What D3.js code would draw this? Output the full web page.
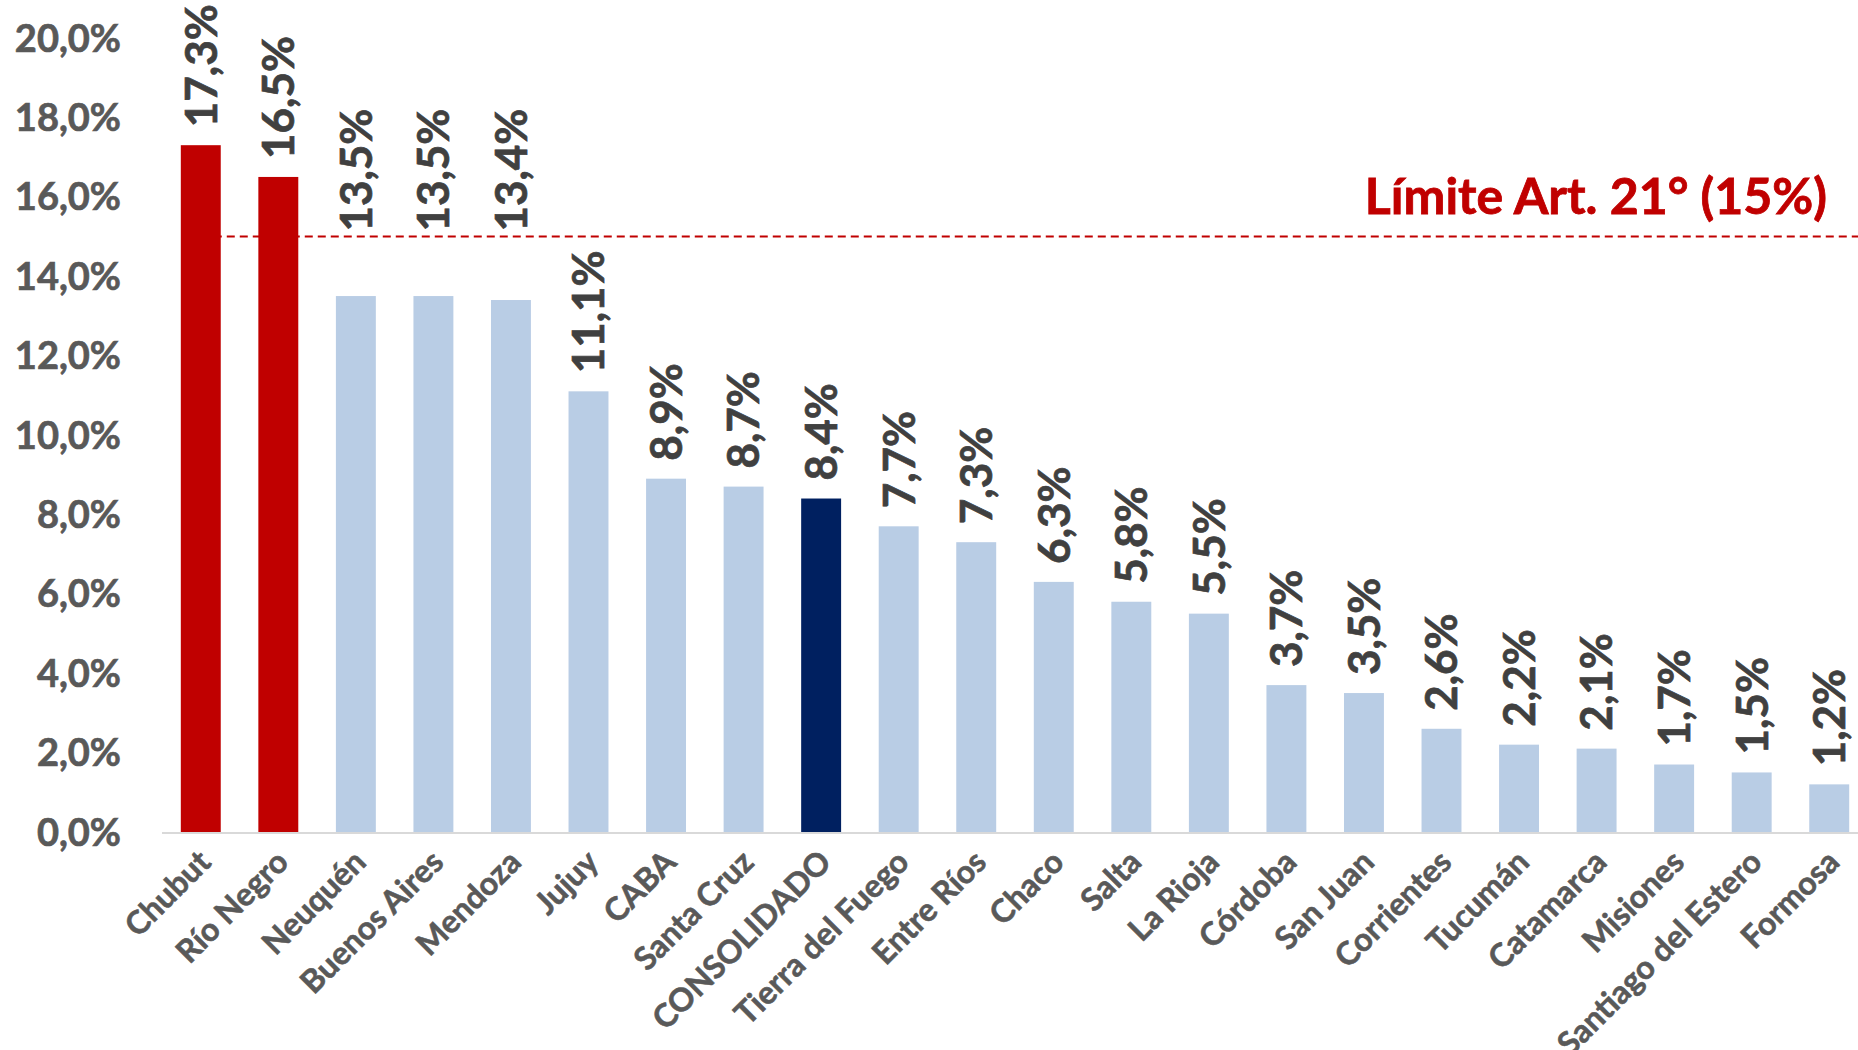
<!DOCTYPE html>
<html>
<head>
<meta charset="utf-8">
<script src="https://cdn.jsdelivr.net/npm/d3@7"></script>
<style>
  body { margin: 0; background: #fff; }
  text { font-family: Lato, "Open Sans", sans-serif; font-weight: bold; }
</style>
</head>
<body>
<div id="chart"></div>
<script>
/**
 * DATA
 * */
const provinces = ["Chubut", "Río Negro", "Neuquén", "Buenos Aires", "Mendoza", "Jujuy", "CABA",
  "Santa Cruz", "CONSOLIDADO", "Tierra del Fuego", "Entre Ríos", "Chaco", "Salta", "La Rioja",
  "Córdoba", "San Juan", "Corrientes", "Tucumán", "Catamarca", "Misiones", "Santiago del Estero", "Formosa"];
const values = [17.3, 16.5, 13.5, 13.5, 13.4, 11.1, 8.9, 8.7, 8.4, 7.7, 7.3, 6.3, 5.8, 5.5,
  3.7, 3.5, 2.6, 2.2, 2.1, 1.7, 1.5, 1.2];
const yTicks = [0, 2, 4, 6, 8, 10, 12, 14, 16, 18, 20];
const limit = 15;
const limitLabel = "Límite Art. 21° (15%)";
const overLimit = ["Chubut", "Río Negro"];
const highlight = "CONSOLIDADO";

/**
 * CONSTANTS
 * */
const width = 1858,
  height = 1050,
  margin = { top: 38, bottom: 218, left: 162, right: -10 };

const data = provinces.map((p, i) => ({ name: p, value: values[i] }));
const fmt = v => d3.format(".1f")(v).replace(".", ",") + "%";

const svg = d3.select("#chart")
  .append("svg")
  .attr("width", width)
  .attr("height", height);

const x = d3.scaleBand()
  .domain(provinces)
  .range([margin.left, width - margin.right])
  .paddingInner(0.485)
  .paddingOuter(0.2425);

const y = d3.scaleLinear()
  .domain([0, 20])
  .range([height - margin.bottom, margin.top]);

// y tick labels (no axis line in the original)
svg.append("g")
  .selectAll("text")
  .data(yTicks)
  .join("text")
  .attr("x", 121)
  .attr("y", d => y(d))
  .attr("dy", "0.36em")
  .attr("text-anchor", "end")
  .attr("fill", "#595959")
  .attr("stroke", "#595959")
  .attr("stroke-width", 0.7)
  .style("font-size", "38px")
  .text(d => fmt(d));

// limit line, behind the bars
svg.append("line")
  .attr("x1", x("Chubut") + x.bandwidth() / 2)
  .attr("x2", width)
  .attr("y1", y(limit))
  .attr("y2", y(limit))
  .attr("stroke", "#C00000")
  .attr("stroke-width", 2)
  .attr("stroke-dasharray", "8,5");

svg.append("text")
  .attr("x", 1827)
  .attr("y", y(limit) - 23)
  .attr("text-anchor", "end")
  .attr("fill", "#C00000")
  .attr("stroke", "#C00000")
  .attr("stroke-width", 0.8)
  .style("font-size", "50px")
  .text(limitLabel);

// bars
svg.append("g")
  .selectAll("rect")
  .data(data)
  .join("rect")
  .attr("x", d => x(d.name))
  .attr("width", x.bandwidth())
  .attr("y", d => y(d.value))
  .attr("height", d => y(0) - y(d.value))
  .attr("fill", d => overLimit.includes(d.name) ? "#C00000" : d.name === highlight ? "#002060" : "#B9CDE5");

// x axis line
svg.append("line")
  .attr("x1", margin.left)
  .attr("x2", width)
  .attr("y1", y(0) + 1)
  .attr("y2", y(0) + 1)
  .attr("stroke", "#D9D9D9")
  .attr("stroke-width", 2);

// value labels; those that would cross the limit line sit just above it
const labelLen = 115;
const labelBase = v => {
  const b = y(v) - 18;
  return (v < limit && b - labelLen < y(limit)) ? y(limit) - 5 : b;
};

svg.append("g")
  .selectAll("text")
  .data(data)
  .join("text")
  .attr("transform", d => `translate(${x(d.name) + x.bandwidth() / 2},${labelBase(d.value)}) rotate(-90)`)
  .attr("dy", "0.36em")
  .attr("text-anchor", "start")
  .attr("fill", "#404040")
  .attr("stroke", "#404040")
  .attr("stroke-width", 0.7)
  .style("font-size", "44px")
  .text(d => fmt(d.value));

// category labels
svg.append("g")
  .selectAll("text")
  .data(data)
  .join("text")
  .attr("transform", d => `translate(${x(d.name) + x.bandwidth() / 2 + 12},${y(0) + 32}) rotate(-45)`)
  .attr("text-anchor", "end")
  .attr("fill", "#595959")
  .attr("stroke", "#595959")
  .attr("stroke-width", 0.6)
  .style("font-size", "32px")
  .text(d => d.name);
</script>
</body>
</html>
